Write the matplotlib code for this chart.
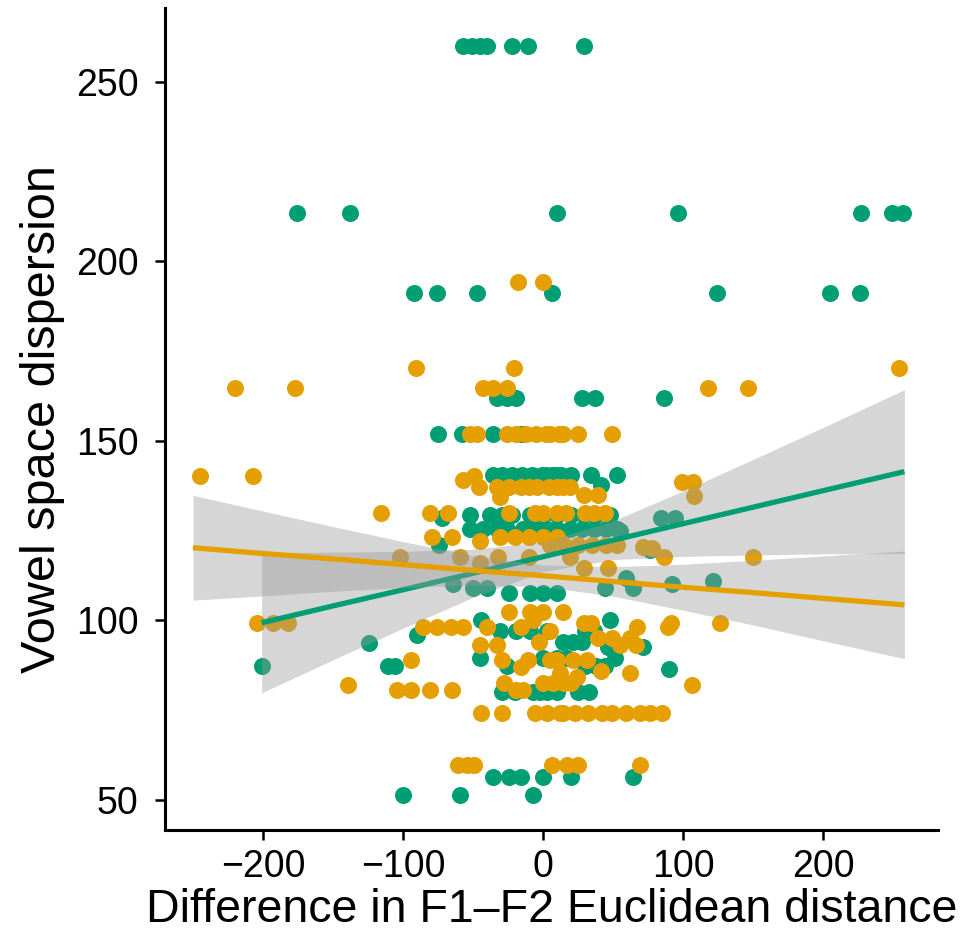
"""Vowel space dispersion vs difference in F1-F2 Euclidean distance,
two groups with linear fits and 95% bands (ggplot-like classic look)."""
import matplotlib
matplotlib.use("Agg")
import matplotlib.pyplot as plt

GREEN = "#009E73"
ORANGE = "#E69F00"

# ---- points ----
green_x = [-57, -51, -45, -40, -22, -11, 29,
           -176, -138, 10, 96, 227, 249, 257,
           -92, -76, -47, 6, 124, 205, 226,
           -33, -26, -19, 28, 37, 86,
           -75, -58, -36, -16,
           -36, -29, -22, -15, -8, -1, 6, 13, 20, 34, 53, 41, 2, 9,
           -52, -38, -29, -22, -9, 0, 10, 20, 29, 38, 48,
           -72, 84, 94,
           -52, -43, -26, -14, 3, 19, 36, 53, 55, -33, -5, 10, 28, 45,
           -74, 76, -64, 92, 121, -50, -40, 44, 64, 59,
           -24, -9, 0, 10,
           -44, 48,
           -90, -31, -19, -9, 3, 30, 36,
           14, 21, 28, -124,
           46, 71,
           -45, 0, 10, 17, 51,
           -201, -111, -106, -26, 90, 30, 38, 44,
           -29, -7, -2, 3, 10, 25, -20, 33,
           -36, -24, -16, 0, 20, 64,
           -100, -59, -7]
green_y = [260, 260, 260, 260, 260, 260, 260,
           213.5, 213.5, 213.5, 213.5, 213.5, 213.5, 213.5,
           191, 191, 191, 191, 191, 191, 191,
           162, 162, 162, 162, 162, 162,
           152, 152, 152, 152,
           140.5, 140.5, 140.5, 140.5, 140.5, 140.5, 140.5, 140.5, 140.5, 140.5, 140.5, 137.7, 140.5, 140.5,
           129.4, 129.4, 129.4, 129.4, 129.4, 129.4, 129.4, 129.4, 129.4, 129.4, 129.4,
           128.6, 128.6, 128.6,
           125.5, 125.5, 125.5, 125.5, 125.5, 125.5, 125.5, 125.5, 125, 125.5, 125.5, 125.5, 125.5, 125.5,
           121, 119.6, 110, 110, 111, 109, 109, 109, 109, 111.8,
           107.7, 107.7, 107.7, 107.7,
           100, 100,
           96, 97, 97, 97, 97, 97, 97,
           94, 94, 94, 93.7,
           92.6, 92.6,
           89.6, 89.6, 89.6, 89.6, 89.6,
           87.3, 87.3, 87.3, 87.3, 86.5, 87.3, 87.3, 87.3,
           80, 80, 80, 80, 80, 80, 80, 80,
           56.4, 56.4, 56.4, 56.4, 56.4, 56.4,
           51.4, 51.4, 51.4]

orange_x = [-18, 0,
            -91, -21, 254,
            -220, -177, -43, -36, -26, 118, 146,
            -52, -47, -26, -19, -12, -5, 2, 5, 11, 14, 25, 49,
            -245, -207, -49,
            -57, 99, 107,
            -46, -33, -24, -16, -4, 4, 19, -10, 10, 14,
            29, 39, -31, 108,
            -116, -81, -68, -24, -6, 0, 10, 16, 30, 36, 44,
            -79, -65, -45, -31, -20, -10, 0, 10,
            5, 15, 25, 35, 45, 53, 71, 78,
            -102, -59, -32, -10, 19, 86, 150,
            29, 46, -45,
            -24, -9, 0, 14,
            -204, -193, -182, 29, 34, 91, 126,
            -86, -76, -66, -57, -40, -16, 67, 89,
            -7, 5,
            39, 62, -3, 49,
            -45, -33, 66, 55,
            -94, -29, -11, 21, 31, 5, 10,
            -16, 41, 12, 62, 24,
            -139, -28, 0, 7, 106, 15, 20,
            -104, -94, -81, -65, -19, -14,
            -44, -29, -6, 3, 12, 14, 23, 32, 42, 49, 59, 69, 76, 85,
            -61, -54, -49, 6, 17, 25, 69]
orange_y = [194.3, 194.3,
            170.3, 170.3, 170.3,
            164.8, 164.8, 164.8, 164.8, 164.8, 164.8, 164.8,
            152, 152, 152, 152, 152, 152, 152, 152, 152, 152, 152, 152,
            140.3, 140.3, 140.3,
            139, 138.6, 138.6,
            137, 137, 137, 137, 137, 137, 137, 137, 137, 137,
            135, 135, 134.4, 134.7,
            130, 130, 130, 130, 130, 130, 130, 130, 130, 130, 130,
            123.3, 123.3, 122, 123.3, 123.3, 123.3, 123.3, 123.3,
            121, 121, 121, 121, 121, 121, 120.5, 120,
            117.5, 117.5, 117.5, 117.5, 117.5, 117.5, 117.5,
            114.5, 114.5, 116,
            102.4, 102.4, 102.4, 102.4,
            99.3, 99.3, 99.3, 99.3, 99.3, 99.3, 99.3,
            98, 98, 98, 98, 98, 98, 98, 98,
            100, 97,
            95, 95, 94, 95,
            93, 93, 93, 93,
            89, 89, 89, 89, 89, 89, 89,
            87, 86, 85.4, 85.4, 84.3,
            82, 82.6, 82.6, 82.6, 82, 82.6, 82.6,
            80.6, 80.6, 80.6, 80.6, 80.6, 80.6,
            74.2, 74.2, 74.2, 74.2, 74.2, 74.2, 74.2, 74.2, 74.2, 74.2, 74.2, 74.2, 74.2, 74.2,
            59.7, 59.7, 59.7, 59.7, 59.7, 59.7, 59.7]

# ---- fitted lines and confidence bands ----
green_fit_x = [-201, -150, -100, -50, 0, 50, 100, 150, 200, 258]
green_fit = [99.3, 104.0, 108.5, 113.1, 117.7, 122.3, 126.9, 131.5, 136.1, 141.4]
green_lo = [79.8, 89.0, 97.8, 106.4, 113.6, 116.9, 117.8, 118.2, 118.5, 118.6]
green_hi = [118.8, 119.0, 119.2, 119.8, 121.8, 127.7, 136.0, 144.8, 153.7, 164.2]

orange_fit_x = [-250, -200, -150, -100, -50, 0, 50, 100, 150, 200, 258]
orange_fit = [120.2, 118.6, 117.1, 115.5, 113.9, 112.4, 110.8, 109.2, 107.7, 106.1, 104.3]
orange_lo = [105.6, 106.8, 108.1, 109.1, 109.8, 109.4, 106.7, 102.8, 98.7, 94.3, 89.3]
orange_hi = [134.8, 130.4, 126.1, 121.9, 118.0, 115.4, 114.9, 115.6, 116.7, 117.9, 119.3]

x_ticks = [-200, -100, 0, 100, 200]
y_ticks = [50, 100, 150, 200, 250]

plt.rcParams["font.family"] = ["Liberation Sans", "DejaVu Sans"]

fig = plt.figure(figsize=(9.67, 9.4), dpi=100)
ax = fig.add_axes([165 / 967, 110 / 940, 773 / 967, 822 / 940])

ax.scatter(green_x, green_y, s=150, color=GREEN, linewidths=0, zorder=1)
ax.scatter(orange_x, orange_y, s=150, color=ORANGE, linewidths=0, zorder=1)

ax.fill_between(green_fit_x, green_lo, green_hi, color="#999999", alpha=0.4, lw=0, zorder=2)
ax.plot(green_fit_x, green_fit, color=GREEN, lw=3.8, zorder=2, solid_capstyle="butt")
ax.fill_between(orange_fit_x, orange_lo, orange_hi, color="#999999", alpha=0.4, lw=0, zorder=3)
ax.plot(orange_fit_x, orange_fit, color=ORANGE, lw=3.8, zorder=3, solid_capstyle="butt")

ax.set_xlim(-270, 282)
ax.set_ylim(41.6, 270.5)
ax.set_xticks(x_ticks)
ax.set_yticks(y_ticks)

for side in ("top", "right"):
    ax.spines[side].set_visible(False)
for side in ("left", "bottom"):
    ax.spines[side].set_linewidth(2.2)
ax.tick_params(axis="both", length=7, width=1.8, labelsize=27, colors="black")
ax.tick_params(axis="y", pad=12)
ax.tick_params(axis="x", pad=7)

ax.set_xlabel("Difference in F1\u2013F2 Euclidean distance", fontsize=33.5, labelpad=2)
ax.set_ylabel("Vowel space dispersion", fontsize=35, labelpad=8)

fig.savefig("out.png", dpi=100)
